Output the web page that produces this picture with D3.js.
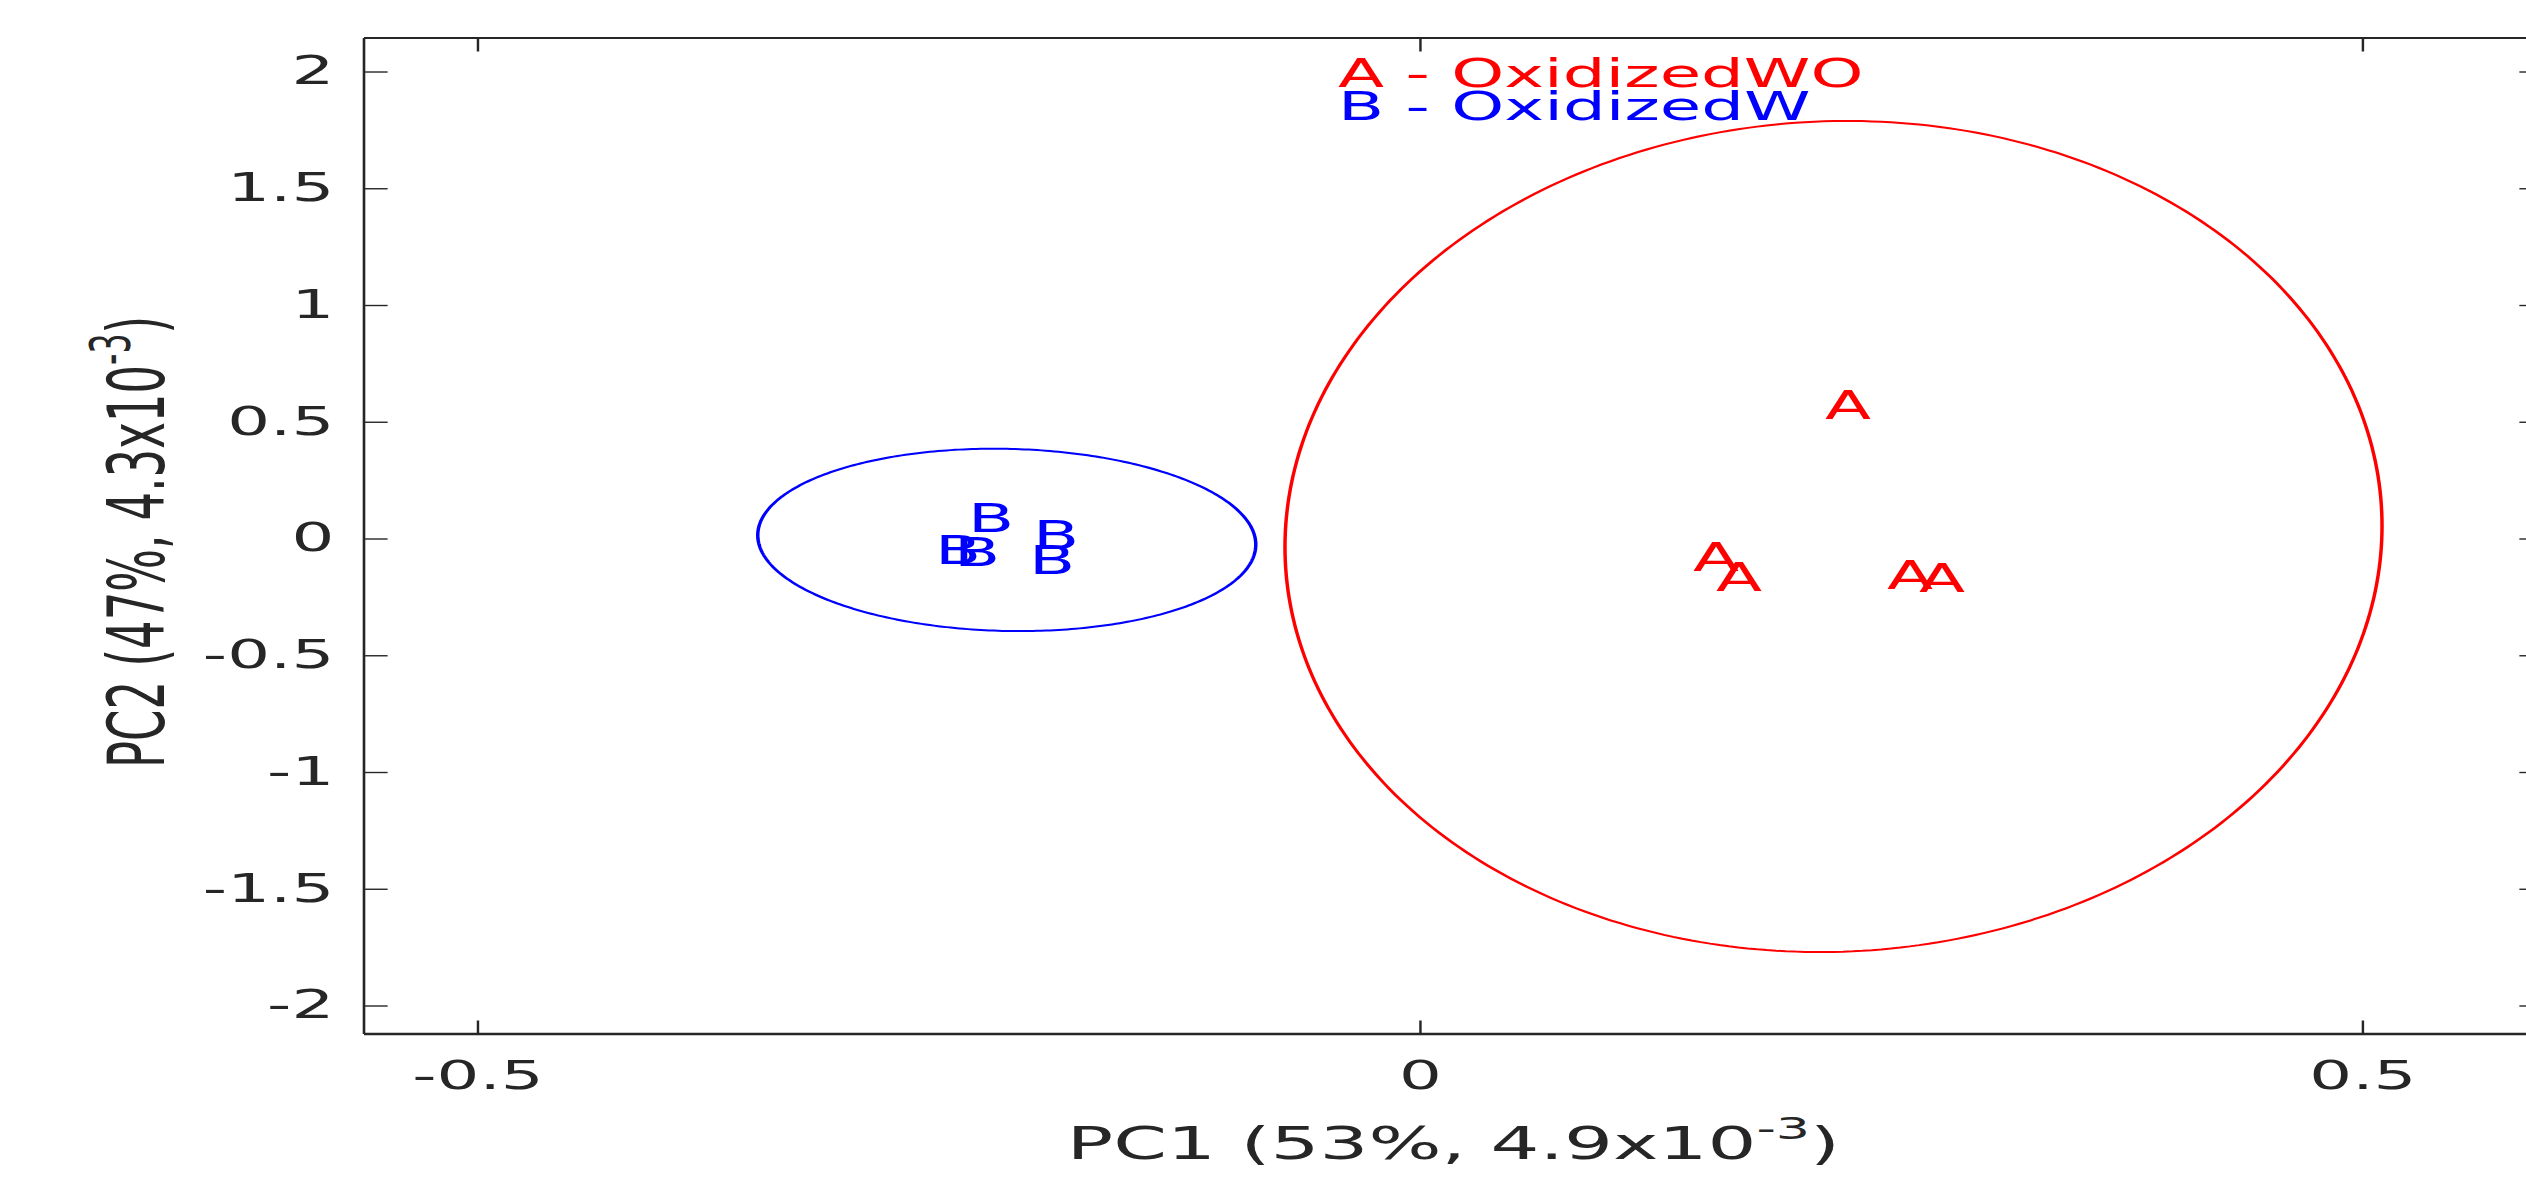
<!DOCTYPE html>
<html>
<head>
<meta charset="utf-8">
<script src="https://cdn.jsdelivr.net/npm/d3@7"></script>
<style>
  html, body { margin: 0; padding: 0; background: #ffffff; }
  svg { display: block; }
  text { font-family: "DejaVu Sans", sans-serif; }
</style>
</head>
<body>
<script>
// ---------------- data ----------------
const groupNames = ["A - OxidizedWO", "B - OxidizedW"];
const groupLetters = ["A", "B"];
const groupColors = ["#ff0000", "#0000ff"];

const groupA_pc1 = [0.2273, 0.1573, 0.1695, 0.2602, 0.2772];
const groupA_pc2 = [0.570, -0.081, -0.163, -0.158, -0.171];
const groupB_pc1 = [-0.2273, -0.2448, -0.2347, -0.1928, -0.1950];
const groupB_pc2 = [0.090, -0.051, -0.056, 0.017, -0.090];

// confidence ellipses (centre, semi-axes, shear of pc2 with pc1)
const ellipseCx = [0.2196, -0.219];
const ellipseCy = [0.0086, -0.006];
const ellipseRx = [0.291, 0.1321];
const ellipseRy = [1.779, 0.39];
const ellipseShear = [0.045, -0.02];

const xDomain = [-0.56, 0.596];
const yDomain = [-2.122, 2.1435];
const xTicks = [-0.5, 0, 0.5];
const xTickLabels = ["-0.5", "0", "0.5"];
const yTicks = [2, 1.5, 1, 0.5, 0, -0.5, -1, -1.5, -2];
const yTickLabels = ["2", "1.5", "1", "0.5", "0", "-0.5", "-1", "-1.5", "-2"];

const xLabelMain = "PC1 (53%, 4.9x10";
const yLabelMain = "PC2 (47%, 4.3x10";
const labelExp = "-3";

// ---------------- layout ----------------
const W = 2526, H = 1179;
const SX = 1.75; // horizontal stretch of the whole figure
const frame = { left: 364, right: 2543, top: 38, bottom: 1034 };
const ink = "#262626";

const svg = d3.select("body").append("svg")
  .attr("width", W).attr("height", H);
svg.append("rect").attr("width", W).attr("height", H).attr("fill", "#ffffff");

const g = svg.append("g").attr("transform", `scale(${SX},1)`);

const x = d3.scaleLinear().domain(xDomain).range([frame.left / SX, frame.right / SX]);
const y = d3.scaleLinear().domain(yDomain).range([frame.bottom, frame.top]);

const L = x.range()[0], R = x.range()[1], T = frame.top, B = frame.bottom;
const tickLen = 13.5;
const fs = 38.5;

// ---------------- ellipses ----------------
const angles = d3.range(0, 361, 1).map(a => a * Math.PI / 180);
const line = d3.line().x(d => x(d[0])).y(d => y(d[1]));
ellipseCx.forEach((cx, i) => {
  const pts = angles.map(t => [
    cx + ellipseRx[i] * Math.cos(t),
    ellipseCy[i] + ellipseRy[i] * Math.sin(t) + ellipseShear[i] * Math.cos(t)
  ]);
  g.append("path").attr("d", line(pts))
    .attr("fill", "none").attr("stroke", groupColors[i]).attr("stroke-width", 2);
});

// ---------------- letter markers ----------------
const groups = [
  { pc1: groupA_pc1, pc2: groupA_pc2 },
  { pc1: groupB_pc1, pc2: groupB_pc2 }
];
groups.forEach((grp, i) => {
  g.append("g").selectAll("text").data(grp.pc1.map((v, k) => [v, grp.pc2[k]]))
    .join("text")
    .attr("x", d => x(d[0])).attr("y", d => y(d[1]))
    .attr("dy", "0.3645em")
    .attr("text-anchor", "middle")
    .attr("font-size", fs)
    .attr("fill", groupColors[i])
    .text(groupLetters[i]);
});

// ---------------- axes ----------------
function styleAxis(sel) {
  sel.select(".domain").remove();
  sel.selectAll(".tick line").attr("stroke", ink).attr("stroke-width", 1.4);
  sel.selectAll(".tick text").attr("fill", ink).attr("font-size", fs)
    .attr("font-family", "DejaVu Sans, sans-serif");
}

const xAxisB = d3.axisBottom(x).tickValues(xTicks)
  .tickFormat((d, i) => xTickLabels[i]).tickSizeInner(-tickLen).tickSizeOuter(0).tickPadding(28);
g.append("g").attr("transform", `translate(0,${B})`).call(xAxisB).call(styleAxis);

const xAxisT = d3.axisTop(x).tickValues(xTicks).tickFormat("").tickSizeInner(-tickLen).tickSizeOuter(0);
g.append("g").attr("transform", `translate(0,${T})`).call(xAxisT).call(styleAxis);

const yAxisL = d3.axisLeft(y).tickValues(yTicks)
  .tickFormat((d, i) => yTickLabels[i]).tickSizeInner(-tickLen).tickSizeOuter(0).tickPadding(17);
g.append("g").attr("transform", `translate(${L},0)`).call(yAxisL).call(styleAxis);

const yAxisR = d3.axisRight(y).tickValues(yTicks).tickFormat("").tickSizeInner(-tickLen).tickSizeOuter(0);
g.append("g").attr("transform", `translate(${R},0)`).call(yAxisR).call(styleAxis);

// frame
g.append("line").attr("x1", L).attr("x2", R).attr("y1", T).attr("y2", T)
  .attr("stroke", ink).attr("stroke-width", 2.2);
g.append("line").attr("x1", L).attr("x2", R).attr("y1", B).attr("y2", B)
  .attr("stroke", ink).attr("stroke-width", 2.6);
g.append("line").attr("x1", L).attr("x2", L).attr("y1", T).attr("y2", B)
  .attr("stroke", ink).attr("stroke-width", 1.5);
g.append("line").attr("x1", R).attr("x2", R).attr("y1", T).attr("y2", B)
  .attr("stroke", ink).attr("stroke-width", 1.5);

// ---------------- axis labels ----------------
const lfs = 44;
const xl = g.append("text")
  .attr("x", (L + R) / 2).attr("y", 1159)
  .attr("text-anchor", "middle").attr("font-size", lfs).attr("fill", ink);
xl.append("tspan").text(xLabelMain);
xl.append("tspan").attr("font-size", lfs * 0.7).attr("dy", -20).text(labelExp);
xl.append("tspan").attr("dy", 20).text(")");

const ylfs = 45;
const yl = g.append("text")
  .attr("transform", `translate(${164 / SX},542) rotate(-90)`)
  .attr("text-anchor", "middle").attr("font-size", ylfs).attr("fill", ink);
yl.append("tspan").text(yLabelMain);
yl.append("tspan").attr("font-size", ylfs * 0.7).attr("dy", -20).text(labelExp);
yl.append("tspan").attr("dy", 20).text(")");

// ---------------- legend ----------------
const legend = g.append("g");
groupNames.forEach((name, i) => {
  legend.append("text")
    .attr("x", 1338 / SX).attr("y", 87 + i * 33.5)
    .attr("font-size", fs).attr("fill", groupColors[i])
    .text(name);
});
</script>
</body>
</html>
